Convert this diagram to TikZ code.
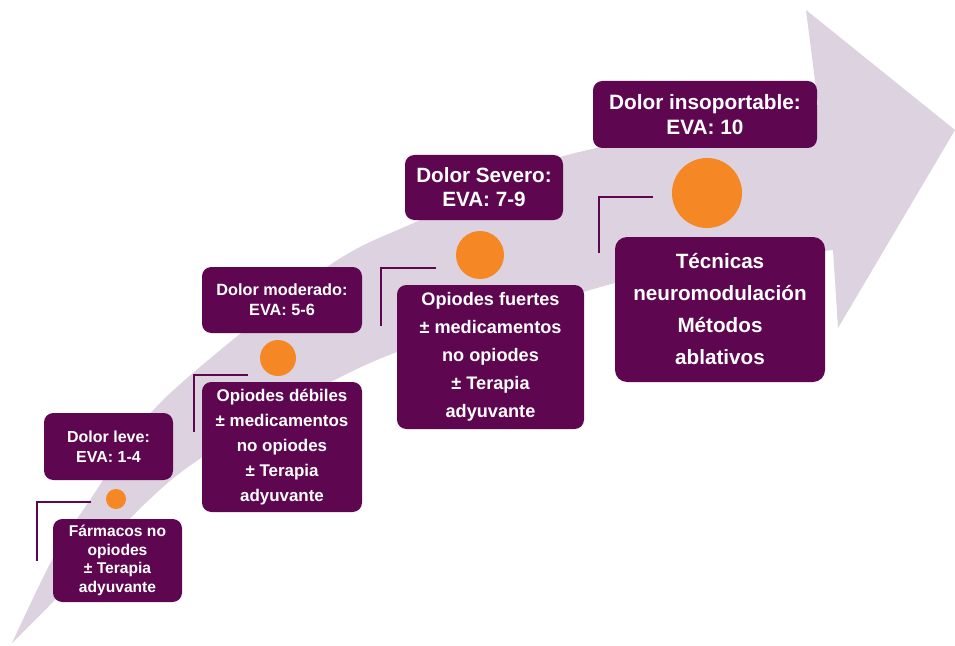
\documentclass[tikz,border=0pt]{standalone}
\usepackage{fontspec}
\setmainfont{Liberation Sans}
\definecolor{plum}{HTML}{5E0650}
\definecolor{orng}{HTML}{F58824}
\definecolor{lav}{HTML}{DCD2E0}
\tikzset{
  box/.style={fill=plum, rounded corners=7pt, text=white, align=center, inner sep=0pt},
  dot/.style={circle, fill=orng, inner sep=0pt},
  brk/.style={draw=plum, line width=2pt},
}
\newcommand{\fs}[2]{\fontsize{#1}{#2}\selectfont\bfseries}
\begin{document}
\begin{tikzpicture}[x=0.75pt,y=-0.75pt]
\useasboundingbox (0,0) rectangle (955,645);
% big arrow
\fill[lav] (12,643) -- plot[smooth,tension=0.5] coordinates {(12,643)(52,560)(90,500)(163,400)(327,267)(420,220)(560,157)(818,105)}
  -- (806,10) -- (955,130) -- (838,328)
  -- plot[smooth,tension=0.5] coordinates {(833,250)(700,266)(590,290)(370,363)(180,473)(48,607)(12,643)} -- cycle;

% stage 1
\node[box, minimum width=96.75pt, minimum height=50.25pt, font=\fs{12}{15}] (a) at (108.5,446.5) {Dolor leve:\\EVA: 1-4};
\node[dot, minimum size=15pt] (c1) at (116,499) {};
\node[box, minimum width=96.75pt, minimum height=62.25pt, font=\fs{11.7}{13.9}] (b) at (117.5,560.5) {Fármacos no\\opiodes\\± Terapia\\adyuvante};
\coordinate (b1a) at (91,502); \coordinate (b1b) at (37,502); \coordinate (b1c) at (37,561);
\draw[brk] (b1a) -- (b1b) -- (b1c);

% stage 2
\node[box, minimum width=120pt, minimum height=49.5pt, font=\fs{12.2}{15}] (c) at (282,300) {Dolor moderado:\\EVA: 5-6};
\node[dot, minimum size=27pt] (c2) at (278,358) {};
\node[box, minimum width=120pt, minimum height=97.5pt, font=\fs{12.7}{18.75}] (d) at (282,447) {Opiodes débiles\\± medicamentos\\no opiodes\\± Terapia\\adyuvante};
\coordinate (b2a) at (248,375); \coordinate (b2b) at (194,375); \coordinate (b2c) at (194,432);
\draw[brk] (b2a) -- (b2b) -- (b2c);

% stage 3
\node[box, minimum width=118.5pt, minimum height=48.75pt, font=\fs{15.5}{18}] (e) at (484,187.5) {Dolor Severo:\\EVA: 7-9};
\node[dot, minimum size=36pt] (c3) at (480,255) {};
\node[box, minimum width=140.25pt, minimum height=108pt, font=\fs{13.6}{21}] (f) at (490.5,357) {Opiodes fuertes\\± medicamentos\\no opiodes\\± Terapia\\adyuvante};
\coordinate (b3a) at (436,268); \coordinate (b3b) at (381,268); \coordinate (b3c) at (381,326);
\draw[brk] (b3a) -- (b3b) -- (b3c);

% stage 4
\node[box, minimum width=168pt, minimum height=50.25pt, font=\fs{15.6}{18.75}] (g) at (705,114.5) {Dolor insoportable:\\EVA: 10};
\node[dot, minimum size=52.5pt] (c4) at (707,193) {};
\node[box, minimum width=157.5pt, minimum height=108.75pt, rounded corners=9pt, font=\fs{15.5}{24}] (h) at (720,309.5) {Técnicas\\neuromodulación\\Métodos\\ablativos};
\coordinate (b4a) at (653,197); \coordinate (b4b) at (599,197); \coordinate (b4c) at (599,253);
\draw[brk] (b4a) -- (b4b) -- (b4c);
\end{tikzpicture}
\end{document}
